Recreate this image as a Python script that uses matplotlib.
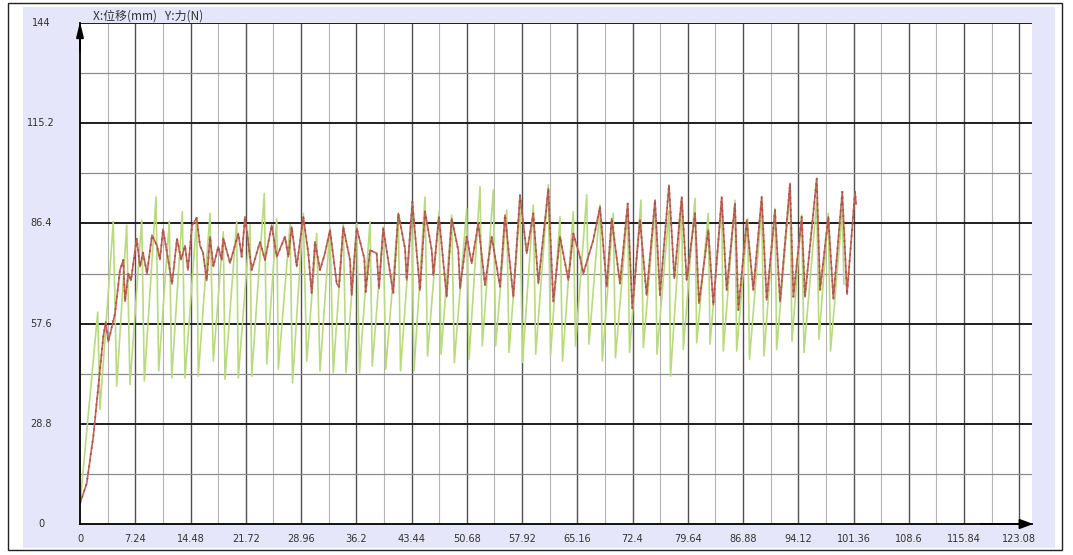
import matplotlib
matplotlib.use("Agg")
import matplotlib.pyplot as plt
from matplotlib.patches import Rectangle

# ---------------- data (x: displacement mm, y: force N) ----------------
title_text = "X:位移(mm)   Y:力(N)"

x_ticks = [0, 7.24, 14.48, 21.72, 28.96, 36.2, 43.44, 50.68, 57.92, 65.16,
           72.4, 79.64, 86.88, 94.12, 101.36, 108.6, 115.84, 123.08]
x_tick_labels = ["0", "7.24", "14.48", "21.72", "28.96", "36.2", "43.44", "50.68",
                 "57.92", "65.16", "72.4", "79.64", "86.88", "94.12", "101.36",
                 "108.6", "115.84", "123.08"]
y_ticks = [0, 28.8, 57.6, 86.4, 115.2, 144]
y_tick_labels = ["0", "28.8", "57.6", "86.4", "115.2", "144"]

green_x = [0, 2.32, 2.62, 4.36, 4.81, 6.12, 6.55, 8.09, 8.43, 9.96, 10.31, 11.70, 12.02,
           13.41, 13.76, 15.29, 15.50, 17.04, 17.47, 18.78, 19.00, 20.53, 20.74, 22.28,
           22.50, 24.15, 24.47, 25.78, 25.99, 27.52, 27.85, 29.26, 29.71, 31.02, 31.45,
           32.76, 33.19, 34.50, 34.86, 36.26, 36.63, 38.00, 38.30, 39.74, 40.06, 41.71,
           42.00, 43.47, 43.77, 45.21, 45.54, 47.04, 47.31, 48.71, 49.05, 50.67, 50.98,
           52.42, 52.72, 54.16, 54.47, 55.91, 56.22, 57.66, 57.99, 59.40, 59.72, 61.37,
           61.66, 62.90, 63.23, 64.64, 64.93, 66.40, 66.70, 68.14, 68.44, 69.88, 70.17,
           71.77, 72.01, 73.51, 73.82, 75.35, 75.61, 77.18, 77.38, 78.85, 79.06, 80.59,
           80.81, 82.33, 82.56, 84.09, 84.30, 85.83, 86.05, 87.50, 87.73, 89.33, 89.63,
           91.07, 91.29, 93.04, 93.30, 94.57, 94.87, 96.54, 96.84, 98.06, 98.35, 99.89,
           100.11]
green_y = [5.5, 60.9, 33, 86.9, 39.6, 85.9, 40.1, 87.3, 41.1, 94, 44, 87, 42, 89.8, 42,
           87.8, 42.5, 89.3, 46.8, 84, 41.6, 86.9, 42, 86, 42.5, 95, 46, 87.8, 44.5, 86,
           40.6, 89.3, 46.8, 83.5, 44, 85.4, 43.5, 86, 43.5, 86.4, 43.5, 86.9, 45.4, 85.4,
           44.5, 88.8, 44, 89, 44, 94, 48.3, 89.8, 48.8, 88.8, 46.4, 90.7, 47.3, 97, 51.2,
           96, 51.2, 90.2, 49.3, 91, 46.4, 91.7, 48.8, 97.5, 48.5, 88.3, 46.8, 89.8, 51.2,
           94.6, 51.7, 91.7, 46.8, 89.3, 47.8, 90, 49.3, 93.1, 50.7, 91, 48.8, 90, 42.5,
           92, 50.2, 93.6, 52.1, 89.3, 51.7, 92, 49.7, 93.1, 49.7, 87.8, 47.3, 91, 48.3,
           90.7, 50.2, 96, 52.6, 88.8, 49.3, 93, 53.1, 89.3, 49.7, 90, 69]

red_x = [0, 0.88, 1.74, 2.40, 3.05, 3.37, 3.71, 4.59, 5.24, 5.67, 5.90, 6.33, 6.68, 7.43,
         7.86, 8.26, 8.78, 9.43, 10.09, 10.48, 10.88, 11.40, 12.06, 12.71, 13.24, 13.76,
         14.15, 14.68, 15.29, 15.72, 16.12, 16.60,
         17.04, 17.47, 18.12, 18.57, 18.78, 19.66, 20.74, 21.19, 21.62, 22.50, 23.59,
         24.24, 25.12, 25.78, 26.86, 27.30, 27.74, 28.40, 29.26, 29.92, 30.36, 30.79,
         31.45, 32.10, 32.76, 33.64,
         33.94, 34.50, 35.38, 35.60, 36.26, 37.26, 37.44, 38.00, 38.88, 39.18, 39.74,
         41.05, 41.71, 42.59, 42.81, 43.55, 44.55, 45.21, 46.09, 46.30, 47.04, 48.05,
         48.71, 49.57, 49.80, 50.67,
         51.33, 52.19, 53.07, 53.95, 55.04, 55.69, 56.78, 57.66, 58.54, 59.40, 60.06,
         61.37, 62.02, 62.90, 63.99, 64.64, 65.52, 65.95, 67.26,
         68.14, 69.02, 69.67, 70.76, 71.77, 72.37, 73.38, 74.25, 75.35, 76.00, 77.18,
         77.88, 78.85, 79.50, 80.59, 81.11, 82.33, 82.99, 84.09, 84.74,
         85.83, 86.27, 87.37, 88.23, 89.33, 89.98, 91.07, 91.73, 93.04, 93.48, 94.57,
         95.00, 96.54, 96.98, 98.06, 98.72, 99.89, 100.51, 101.56, 101.69]
red_y = [5.9, 11.7, 25.1, 39.5, 53.8, 58.1, 52.4, 60.5, 73, 75.9, 64, 72, 70, 82, 74, 78,
         72, 83, 80, 76, 84.7, 78, 69, 82, 76, 80, 73, 85.8, 88, 80, 78, 70,
         82.6, 74, 79.7, 75.9, 82.1, 75, 83.5, 76.8, 88.3, 73, 81.1, 75.9, 85.9, 76.8,
         82.6, 76.8, 85.4, 74, 88.3, 77.8, 66.3, 81.1, 73, 77.8, 84.5, 69.1,
         68.2, 85.4, 75.9, 65.8, 85, 76.3, 66.7, 78.7, 77.8, 67.7, 85, 66.3, 89.3, 79.2,
         70.1, 92.6, 67.2, 89.8, 78.7, 71.5, 88.3, 65.3, 87.8, 78.7, 67.7, 82.6,
         74.9, 86.4, 68.7, 82.6, 68.2, 88.8, 65.3, 94.5, 77.8, 89.3, 69.1, 96.4, 63.9,
         82.6, 70.1, 83.5, 76.8, 72, 81.6,
         91.2, 68.2, 87.8, 69.1, 92.1, 62, 87.4, 65.8, 93.1, 65.8, 97.4, 70.6, 94, 70.1,
         89.3, 63.4, 84.5, 63, 94, 67.2,
         92.1, 61.5, 87.4, 67.2, 94, 64.4, 90.2, 63.9, 97.9, 65.3, 88.3, 65.3, 99.3,
         67.2, 88.3, 64.8, 95.5, 66, 95.5, 92]

# ---------------- figure ----------------
W, H = 1073, 555
fig = plt.figure(figsize=(W / 100, H / 100), dpi=100, facecolor="white")

# outer frame and lavender panel (behind the axes)
fig.patches.append(Rectangle((23 / W, (H - 548) / H), (1055 - 23) / W, (548 - 7) / H,
                             transform=fig.transFigure, facecolor="#e6e6fa",
                             edgecolor="none", zorder=-5))
fig.patches.append(Rectangle((8 / W, (H - 550) / H), (1062 - 8) / W, (550 - 3) / H,
                             transform=fig.transFigure, facecolor="none",
                             edgecolor="#222222", lw=1.0, zorder=-4))

ax = fig.add_axes([80 / W, 31 / H, 952 / W, 501 / H])
ax.set_zorder(3)
ax.set_facecolor("white")
ax.set_xlim(0, 124.75)
ax.set_ylim(0, 144)

# grid
step_x = x_ticks[1] / 2
for k in range(1, 35):
    major = (k % 2 == 0)
    ax.axvline(k * step_x, color="#505050" if major else "#b4b4b4",
               lw=1.0 if major else 0.8, zorder=1)
step_y = y_ticks[1] / 2
for k in range(1, 11):
    major = (k % 2 == 0)
    ax.axhline(k * step_y, color="#1e1e1e" if major else "#8c8c8c",
               lw=1.4 if major else 0.9, zorder=1)

# data
ax.plot(green_x, green_y, color="#b9da7e", lw=1.2, zorder=3)
ax.plot(red_x, red_y, color="#c95f62", lw=1.2, zorder=4)
ax.plot(red_x, red_y, color="#7f6226", lw=1.4, ls=(0, (1, 2.2)), alpha=0.7, zorder=5)

# spines / axes
for s in ["top", "right"]:
    ax.spines[s].set_visible(False)
for s in ["left", "bottom"]:
    ax.spines[s].set_color("black")
    ax.spines[s].set_linewidth(1.3)
    ax.spines[s].set_zorder(6)

ax.annotate("", xy=(0, 144.3), xytext=(0, 136), annotation_clip=False,
            arrowprops=dict(arrowstyle="-|>,head_length=0.9,head_width=0.22",
                            color="black", lw=1.3, shrinkA=0, shrinkB=0), zorder=7)
ax.annotate("", xy=(124.9, 0), xytext=(118, 0), annotation_clip=False,
            arrowprops=dict(arrowstyle="-|>,head_length=0.8,head_width=0.3",
                            color="black", lw=1.3, shrinkA=0, shrinkB=0), zorder=7)

tick_font = dict(family="DejaVu Sans", stretch="condensed", size=7.8, color="#333333")
ax.set_xticks(x_ticks)
ax.set_xticklabels(x_tick_labels, **tick_font)
ax.set_yticks(y_ticks)
ax.set_yticklabels(y_tick_labels, ha="center", va="top", **tick_font)
ax.tick_params(axis="x", length=0, pad=7)
ax.tick_params(axis="y", length=0, pad=28)
for lbl in ax.get_yticklabels():
    lbl.set_verticalalignment("center")

fig.text(93 / W, (H - 16) / H, title_text, fontsize=8.6, color="#333333",
         family=["Noto Sans CJK SC", "DejaVu Sans"], va="center", ha="left")

fig.savefig("out.png", dpi=100, facecolor="white")
